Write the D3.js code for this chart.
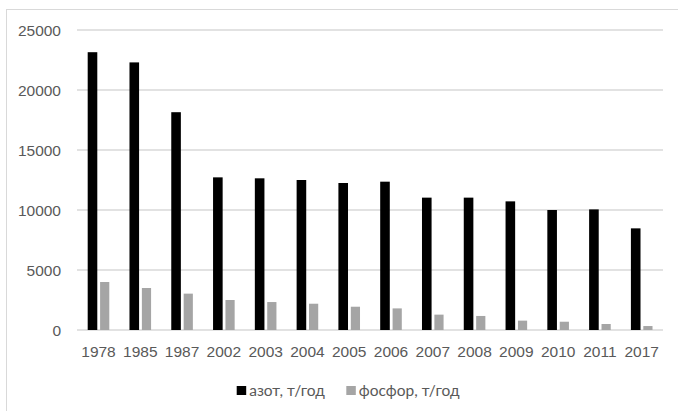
<!DOCTYPE html>
<html lang="ru">
<head>
<meta charset="UTF-8">
<title>азот и фосфор</title>
<script src="https://d3js.org/d3.v7.min.js"></script>
<style>
 body { margin: 0; background: #fff; }
 svg { display: block; font-family: Lato, "Open Sans", sans-serif; }
 .tick text { fill: #595959; font-size: 15.5px; }
 .grid line { stroke: #d9d9d9; stroke-width: 1.3px; }
 .legend text { fill: #595959; font-size: 15.5px; }
</style>
</head>
<body>
<div id="chart"></div>
<script>
// data
const years = ["1978", "1985", "1987", "2002", "2003", "2004", "2005", "2006", "2007", "2008", "2009", "2010", "2011", "2017"];
const nitrogen = [23150, 22300, 18150, 12720, 12640, 12500, 12250, 12360, 11030, 11030, 10720, 10000, 10050, 8470];
const phosphorus = [4000, 3500, 3030, 2500, 2330, 2190, 1940, 1800, 1280, 1170, 780, 690, 500, 330];
const yTicks = [0, 5000, 10000, 15000, 20000, 25000];
const seriesNames = ["азот, т/год", "фосфор, т/год"];

const width = 678, height = 411;
const svg = d3.select('#chart').append('svg')
  .attr('width', width)
  .attr('height', height);

// outer chart border (only top and left visible)
svg.append('rect')
  .attr('x', 6.5).attr('y', 9.5)
  .attr('width', 700).attr('height', 450)
  .attr('fill', 'none')
  .attr('stroke', '#d9d9d9');

const x = d3.scaleBand().domain(years).range([77.6, 662.6]);
const y = d3.scaleLinear().domain([0, 25000]).range([330, 30]);

// gridlines
svg.append('g')
  .attr('class', 'grid')
  .selectAll('line')
  .data(yTicks)
  .enter()
  .append('line')
  .attr('x1', 77).attr('x2', 663)
  .attr('y1', d => y(d)).attr('y2', d => y(d));

// y axis labels
const yAxis = svg.append('g')
  .attr('transform', 'translate(61,0)')
  .call(d3.axisLeft(y).tickValues(yTicks).tickSize(0).tickPadding(0).tickFormat(d3.format('d')));
yAxis.select('.domain').remove();
yAxis.selectAll('text').attr('dy', '0.34em');

// x axis labels
const xAxis = svg.append('g')
  .attr('transform', 'translate(0,330)')
  .call(d3.axisBottom(x).tickSize(0).tickPadding(16));
xAxis.select('.domain').remove();

// bars
const c = d => x(d) + x.bandwidth() / 2;
svg.append('g').selectAll('rect')
  .data(years)
  .enter()
  .append('rect')
  .attr('x', d => c(d) - 10.8)
  .attr('width', 9.6)
  .attr('y', (d, i) => y(nitrogen[i]))
  .attr('height', (d, i) => y(0) - y(nitrogen[i]))
  .attr('fill', '#000');

svg.append('g').selectAll('rect')
  .data(years)
  .enter()
  .append('rect')
  .attr('x', d => c(d) + 1.6)
  .attr('width', 9.2)
  .attr('y', (d, i) => y(phosphorus[i]))
  .attr('height', (d, i) => y(0) - y(phosphorus[i]))
  .attr('fill', '#a5a5a5');

// legend
const legend = svg.append('g').attr('class', 'legend');
const legendX = [236.7, 346.3];
const legendColors = ['#000', '#a5a5a5'];
seriesNames.forEach((name, i) => {
  legend.append('rect')
    .attr('x', legendX[i]).attr('y', 386)
    .attr('width', 9.5).attr('height', 9)
    .attr('fill', legendColors[i]);
  legend.append('text')
    .attr('x', legendX[i] + 12.5).attr('y', 395.5)
    .text(name);
});
</script>
</body>
</html>
